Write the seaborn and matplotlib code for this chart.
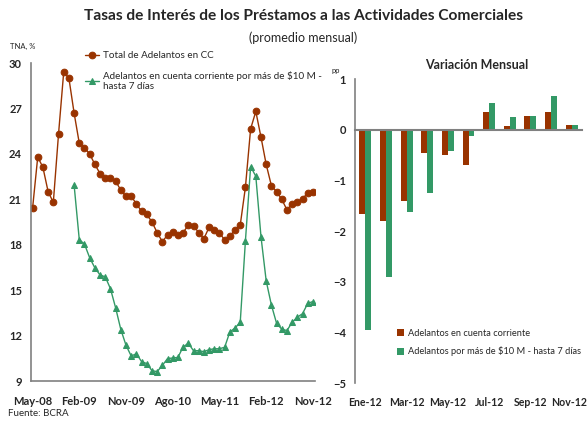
import numpy as np
import pandas as pd
import matplotlib
matplotlib.use("Agg")
import matplotlib.pyplot as plt
import matplotlib.transforms as mtransforms
import seaborn as sns

# monthly series, May-08 .. Nov-12 (55 months)
total_cc = [
    20.4, 23.8, 23.1, 21.5, 20.8, 25.3, 29.4, 29.0, 26.7, 24.7, 24.4, 24.0,
    23.3, 22.7, 22.4, 22.4, 22.2, 21.6, 21.2, 21.2, 20.7, 20.2, 20.0, 19.5,
    18.8, 18.2, 18.65, 18.85, 18.65, 18.8, 19.3, 19.25, 18.8, 18.4, 19.15, 19.0,
    18.8, 18.3, 18.55, 19.0, 19.3, 21.8, 25.65, 26.8, 25.1, 23.3, 21.9, 21.5,
    21.0, 20.3, 20.7, 20.8, 21.05, 21.4, 21.5,
]
# starts Jan-09
mas_10m = [
    21.95, 18.33, 18.04, 17.14, 16.47, 16.0, 15.88, 15.1, 13.83, 12.4, 11.36, 10.65,
    10.8, 10.28, 10.15, 9.68, 9.62, 10.03, 10.48, 10.52, 10.56, 11.25, 11.49, 11.0,
    11.0, 10.94, 11.07, 11.13, 11.13, 11.23, 12.24, 12.5, 12.88, 18.26, 23.16, 22.52,
    18.52, 15.61, 14.02, 12.81, 12.42, 12.33, 12.88, 13.21, 13.45, 14.12, 14.25,
]
month_ticks = ["May-08", "Feb-09", "Nov-09", "Ago-10", "May-11", "Feb-12", "Nov-12"]

# monthly change 2012
bar_months = ["Ene-12", "Feb-12", "Mar-12", "Abr-12", "May-12", "Jun-12",
              "Jul-12", "Ago-12", "Sep-12", "Oct-12", "Nov-12"]
var_cc = [-1.66, -1.80, -1.41, -0.46, -0.50, -0.70, 0.36, 0.07, 0.28, 0.36, 0.105]
var_10m = [-3.95, -2.91, -1.61, -1.25, -0.42, -0.125, 0.54, 0.26, 0.28, 0.68, 0.105]
bar_tick_labels = ["Ene-12", "Mar-12", "May-12", "Jul-12", "Sep-12", "Nov-12"]

ORANGE = "#993300"
GREEN = "#339966"
SPINE = "#808080"

sns.set_theme(style="white")
plt.rcParams["font.family"] = ["Lato", "DejaVu Sans"]

fig = plt.figure(figsize=(5.87, 4.22), dpi=100)
W, H = 587, 422

# ---- left: monthly rates ----
ax = fig.add_axes([31 / W, 1 - 381 / H, 284 / W, 318 / H])
n = len(total_cc)
idx = np.arange(n)
green_full = [np.nan] * (n - len(mas_10m)) + mas_10m
df = pd.DataFrame({"mes": idx, "total": total_cc, "mas10": green_full})

sns.lineplot(data=df, x="mes", y="total", ax=ax, color=ORANGE, lw=1.0,
             marker="o", markersize=4.8, markeredgecolor=ORANGE,
             label="Total de Adelantos en CC")
sns.lineplot(data=df.dropna(), x="mes", y="mas10", ax=ax, color=GREEN, lw=1.0,
             marker="^", markersize=4, markeredgecolor=GREEN,
             label="Adelantos en cuenta corriente por más de \\$10 M -\nhasta 7 días")

ax.set_xlim(-0.3, 54.4)
ax.set_ylim(9, 30)
ax.set_yticks(range(9, 31, 3))
ax.set_xticks(range(0, n, 9), month_ticks)
ax.set_xlabel("")
ax.set_ylabel("")
for s in ["top", "right"]:
    ax.spines[s].set_visible(False)
for s in ["left", "bottom"]:
    ax.spines[s].set_color(SPINE)
    ax.spines[s].set_linewidth(1.2)
ax.tick_params(axis="both", direction="out", length=3, width=1, color="black",
               labelsize=8)
ax.tick_params(axis="x", pad=8)
for lab in ax.get_xticklabels() + ax.get_yticklabels():
    lab.set_fontweight("bold")
ax.legend(loc="upper left", bbox_to_anchor=(85 / W, 1 - 51 / H),
          bbox_transform=fig.transFigure, frameon=False, fontsize=7.1,
          handlelength=1.4, handletextpad=0.45, labelspacing=1.1,
          borderaxespad=0, borderpad=0)

# ---- right: monthly change bars ----
ax2 = fig.add_axes([355 / W, 1 - 383.3 / H, 227 / W, 304 / H])
bars = pd.DataFrame({
    "mes": bar_months * 2,
    "var": var_cc + var_10m,
    "serie": ["Adelantos en cuenta corriente"] * len(bar_months)
    + ["Adelantos por más de \\$10 M - hasta 7 días"] * len(bar_months),
})
sns.barplot(data=bars, x="mes", y="var", hue="serie", ax=ax2,
            palette=[ORANGE, GREEN], width=0.58, saturation=1, linewidth=0)
ax2.set_xlim(-0.5, 10.5)
ax2.set_ylim(-5, 1)
ax2.set_yticks(range(-5, 2))
ax2.set_xlabel("")
ax2.set_ylabel("")
for s in ["top", "right"]:
    ax2.spines[s].set_visible(False)
ax2.spines["left"].set_color(SPINE)
ax2.spines["left"].set_linewidth(1.2)
ax2.spines["bottom"].set_position(("data", 0))
ax2.spines["bottom"].set_color(SPINE)
ax2.spines["bottom"].set_linewidth(1.5)
ax2.set_xticks(np.arange(0.5, 10.5, 1))
ax2.tick_params(axis="x", direction="inout", length=6, width=1, color="black",
                labelbottom=False)
ax2.tick_params(axis="y", direction="out", length=3, width=1, color="black",
                labelsize=8)
for lab in ax2.get_yticklabels():
    lab.set_fontweight("bold")
sec = ax2.secondary_xaxis(0)
sec.set_xticks(range(0, len(bar_months), 2), bar_tick_labels)
sec.spines["bottom"].set_visible(False)
sec.tick_params(length=0, pad=10, labelsize=7.6)
sec_labels = sec.get_xticklabels()
for lab in sec_labels:
    lab.set_fontweight("bold")
# last label sits on the right edge, nudge it in a little
nudge = mtransforms.ScaledTranslation(-3 / 100, 0, fig.dpi_scale_trans)
sec_labels[-1].set_transform(sec_labels[-1].get_transform() + nudge)
ax2.legend(loc="upper left", bbox_to_anchor=(397 / W, 1 - 329 / H),
           bbox_transform=fig.transFigure, frameon=False, fontsize=6.7,
           handlelength=0.8, handleheight=0.8, handletextpad=0.4,
           labelspacing=0.9, borderaxespad=0, borderpad=0)

# ---- text ----
fig.text(303 / W, 1 - 16 / H, "Tasas de Interés de los Préstamos a las Actividades Comerciales",
         ha="center", va="center", fontsize=11.2, fontweight="bold")
fig.text(303 / W, 1 - 38 / H, "(promedio mensual)", ha="center", va="center",
         fontsize=9)
fig.text(477 / W, 1 - 65 / H, "Variación Mensual", ha="center", va="center",
         fontsize=9, fontweight="bold")
fig.text(10 / W, 1 - 46 / H, "TNA, %", ha="left", va="center", fontsize=5.5)
fig.text(331 / W, 1 - 70 / H, "pp", ha="left", va="center", fontsize=5.5)
fig.text(8 / W, 1 - 414 / H, "Fuente: BCRA", ha="left", va="center", fontsize=7)

fig.savefig("out.png", dpi=100)
